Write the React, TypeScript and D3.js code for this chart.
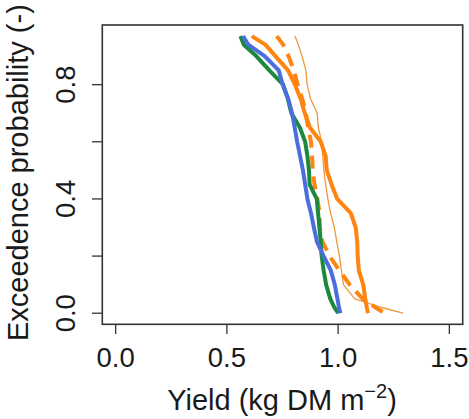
import React from "react";
import * as d3 from "d3";

const probLevels = [0.97, 0.94, 0.9, 0.85, 0.8, 0.75, 0.7, 0.65, 0.6, 0.55, 0.5, 0.45, 0.4, 0.35, 0.3, 0.25, 0.2, 0.15, 0.1, 0.05, 0.02, 0.0];

const blueYield = [0.572, 0.596, 0.67, 0.733, 0.751, 0.776, 0.793, 0.805, 0.816, 0.829, 0.842, 0.852, 0.862, 0.878, 0.891, 0.905, 0.935, 0.967, 0.985, 0.997, 1.004, 1.01];
const greenYield = [0.561, 0.576, 0.632, 0.691, 0.753, 0.774, 0.79, 0.828, 0.852, 0.862, 0.869, 0.872, 0.904, 0.91, 0.916, 0.922, 0.926, 0.935, 0.946, 0.965, 0.983, 1.001];
const orangeYield = [0.612, 0.673, 0.718, 0.775, 0.806, 0.832, 0.85, 0.873, 0.922, 0.944, 0.949, 0.971, 0.996, 1.057, 1.079, 1.086, 1.088, 1.093, 1.113, 1.122, 1.129, 1.134];
const orangeDashedYield = [0.724, 0.753, 0.777, 0.801, 0.818, 0.839, 0.855, 0.865, 0.878, 0.883, 0.886, 0.894, 0.907, 0.917, 0.918, 0.93, 0.962, 1.005, 1.052, 1.111, 1.169, 1.209];
const orangeThinYield = [0.806, 0.821, 0.838, 0.855, 0.861, 0.876, 0.906, 0.911, 0.926, 0.931, 0.936, 0.944, 0.954, 0.966, 0.983, 0.994, 1.006, 1.015, 1.024, 1.075, 1.196, 1.292];

const xTicks = [0, 0.5, 1.0, 1.5];
const yTicks = [0, 0.2, 0.4, 0.6, 0.8];
const yLabelTicks = [0, 0.4, 0.8];

const W = 469;
const H = 419;

export default function App() {
  const xPad = 0.04 * 1.5;
  const x = d3.scaleLinear().domain([0 - xPad, 1.5 + xPad]).range([102.3, 462.7]);
  const pMax = d3.max(probLevels) as number;
  const yPad = 0.04 * pMax;
  const y = d3.scaleLinear().domain([0 - yPad, pMax + yPad]).range([324.3, 25]);

  const line = (ys: number[]) =>
    d3.line<number>()
      .x((v) => x(v))
      .y((_, i) => y(probLevels[i]))(ys) as string;

  const font = "'Liberation Sans', Arial, sans-serif";
  const textCol = "#1a1a1a";

  const series = [
    { d: orangeThinYield, color: "#EE9840", w: 1.3, dash: undefined as string | undefined },
    { d: orangeDashedYield, color: "#FF8410", w: 4, dash: "13 8" },
    { d: orangeYield, color: "#FF8410", w: 4, dash: undefined },
    { d: greenYield, color: "#1C8A3E", w: 4, dash: undefined },
    { d: blueYield, color: "#4A6FDC", w: 4, dash: undefined },
  ];

  return (
    <svg width={W} height={H} style={{ position: "absolute", left: 0, top: 0, background: "#fff" }}>
      <rect x={0} y={0} width={W} height={H} fill="#fff" />
      <g>
        {series.map((s, i) => (
          <path key={i} d={line(s.d)} fill="none" stroke={s.color} strokeWidth={s.w}
            strokeDasharray={s.dash} strokeLinejoin="round" strokeLinecap="butt" />
        ))}
      </g>
      <rect x={x.range()[0]} y={y.range()[1]} width={x.range()[1] - x.range()[0]} height={y.range()[0] - y.range()[1]}
        fill="none" stroke="#333" strokeWidth={1.6} />
      {xTicks.map((t) => (
        <g key={"x" + t}>
          <line x1={x(t)} x2={x(t)} y1={324.3} y2={334} stroke="#333" strokeWidth={1.3} />
          <text x={x(t)} y={367.3} textAnchor="middle" fontFamily={font} fontSize={27.5} fill={textCol}>
            {t.toFixed(1)}
          </text>
        </g>
      ))}
      {yTicks.map((t) => (
        <line key={"y" + t} x1={92} x2={102.3} y1={y(t)} y2={y(t)} stroke="#333" strokeWidth={1.3} />
      ))}
      {yLabelTicks.map((t) => (
        <text key={"yl" + t} transform={`translate(75,${y(t)}) rotate(-90)`} textAnchor="middle"
          fontFamily={font} fontSize={27.5} fill={textCol}>
          {t.toFixed(1)}
        </text>
      ))}
      <text x={282} y={410} textAnchor="middle" fontFamily={font} fontSize={29} fill={textCol}>
        Yield (kg DM m<tspan fontSize={20} dy={-12}>−2</tspan><tspan dy={12}>)</tspan>
      </text>
      <text transform={`translate(27.5,${(25 + 324.3) / 2 - 2}) rotate(-90)`} textAnchor="middle"
        fontFamily={font} fontSize={29} fill={textCol}>
        Exceedence probability (-)
      </text>
    </svg>
  );
}
